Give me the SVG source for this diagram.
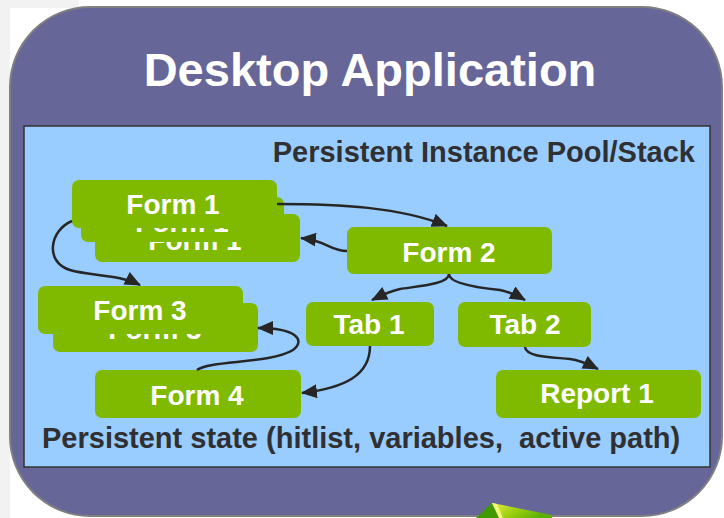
<svg xmlns="http://www.w3.org/2000/svg" width="724" height="518" viewBox="0 0 724 518">
  <style>
    .node { fill: #7fba00; }
    .lbl { font-family: "Liberation Sans", Arial, sans-serif; font-weight: bold; font-size: 28px; fill: #ffffff; text-anchor: middle; }
    .dark { font-family: "Liberation Sans", Arial, sans-serif; font-weight: bold; font-size: 29px; fill: #303033; }
    .conn { fill: none; stroke: #262626; stroke-width: 2.5; marker-end: url(#arrow); }
  </style>
  <defs>
    <marker id="arrow" viewBox="0 0 16 14" refX="15" refY="7" markerWidth="16" markerHeight="14" markerUnits="userSpaceOnUse" orient="auto">
      <path d="M0,0 L16,7 L0,14 z" fill="#262626"/>
    </marker>
    <linearGradient id="gem" x1="0" y1="0" x2="1" y2="0.4">
      <stop offset="0" stop-color="#e8f040"/>
      <stop offset="0.5" stop-color="#9ed010"/>
      <stop offset="1" stop-color="#5cb000"/>
    </linearGradient>
  </defs>

  <!-- background -->
  <rect x="0" y="0" width="724" height="518" fill="#ffffff"/>
  <rect x="0" y="0" width="10" height="518" fill="#f2f2f2"/>
  <rect x="0" y="0" width="79" height="8" fill="#f2f2f2"/>

  <!-- outer frame -->
  <rect id="app" x="10" y="7" width="712" height="509" rx="80" ry="80" fill="#666699" stroke="#808080" stroke-width="2"/>
  <text x="370" y="86" font-family="Liberation Sans, Arial, sans-serif" font-weight="bold" font-size="47" fill="#ffffff" text-anchor="middle">Desktop Application</text>

  <!-- inner pool -->
  <rect id="pool" x="24" y="126" width="686" height="341" fill="#99ccff" stroke="#333333" stroke-width="1.5"/>
  <text class="dark" x="695" y="162" text-anchor="end">Persistent Instance Pool/Stack</text>
  <text class="dark" x="42" y="448" xml:space="preserve">Persistent state (hitlist, variables,  active path)</text>

  <!-- Form 1 stack -->
  <g id="form1">
    <rect class="node" x="95" y="214" width="205" height="48" rx="7"/>
    <text class="lbl" x="195" y="250">Form 1</text>
    <rect class="node" x="81" y="197" width="203" height="45" rx="7"/>
    <text class="lbl" x="182" y="232">Form 1</text>
    <rect class="node" x="72" y="180" width="205" height="48" rx="7"/>
    <text class="lbl" x="173" y="214">Form 1</text>
  </g>

  <!-- Form 3 stack -->
  <g id="form3">
    <rect class="node" x="53" y="303" width="205" height="49" rx="7"/>
    <text class="lbl" x="155" y="339">Form 3</text>
    <rect class="node" x="38" y="286" width="205" height="48" rx="7"/>
    <text class="lbl" x="140" y="320">Form 3</text>
  </g>

  <g id="form2">
    <rect class="node" x="347" y="227" width="205" height="47" rx="7"/>
    <text class="lbl" x="449" y="262">Form 2</text>
  </g>

  <g id="tab1">
    <rect class="node" x="306" y="302" width="128" height="44" rx="7"/>
    <text class="lbl" x="369" y="334">Tab 1</text>
  </g>

  <g id="tab2">
    <rect class="node" x="458" y="302" width="133" height="45" rx="7"/>
    <text class="lbl" x="525" y="334">Tab 2</text>
  </g>

  <g id="form4">
    <rect class="node" x="95" y="370" width="206" height="48" rx="7"/>
    <text class="lbl" x="197" y="405">Form 4</text>
  </g>

  <g id="report1">
    <rect class="node" x="496" y="370" width="205" height="48" rx="7"/>
    <text class="lbl" x="597" y="403">Report 1</text>
  </g>

  <!-- connectors -->
  <g id="connectors">
    <path class="conn" d="M277,204 C340,204 400,207 447,226"/>
    <path class="conn" d="M347,251 C330,251 328,241 301,238"/>
    <path class="conn" d="M72,221 C50,230 44,262 70,270 C90,276 118,274 140,285"/>
    <path class="conn" d="M197,370 C210,360 270,364 293,350 C306,340 296,328 258,328"/>
    <path class="conn" d="M449,274 C449,284 420,286 400,289 C390,291 380,296 372,300"/>
    <path class="conn" d="M449,274 C449,284 480,288 500,290 C510,292 518,296 525,300"/>
    <path class="conn" d="M370,346 C370,375 345,388 302,393"/>
    <path class="conn" d="M525,347 C526,357 550,357 570,359 C580,360 590,365 598,369"/>
  </g>

  <!-- clip-art fragment at bottom -->
  <g id="gem-shape">
    <polygon points="476,518 492,503 500,518" fill="#3f9a00"/>
    <polygon points="492,503 552,515 552,518 500,518" fill="url(#gem)"/>
    <polygon points="492,503 497,504 503,518 499,518" fill="#f4f880"/>
  </g>
</svg>
